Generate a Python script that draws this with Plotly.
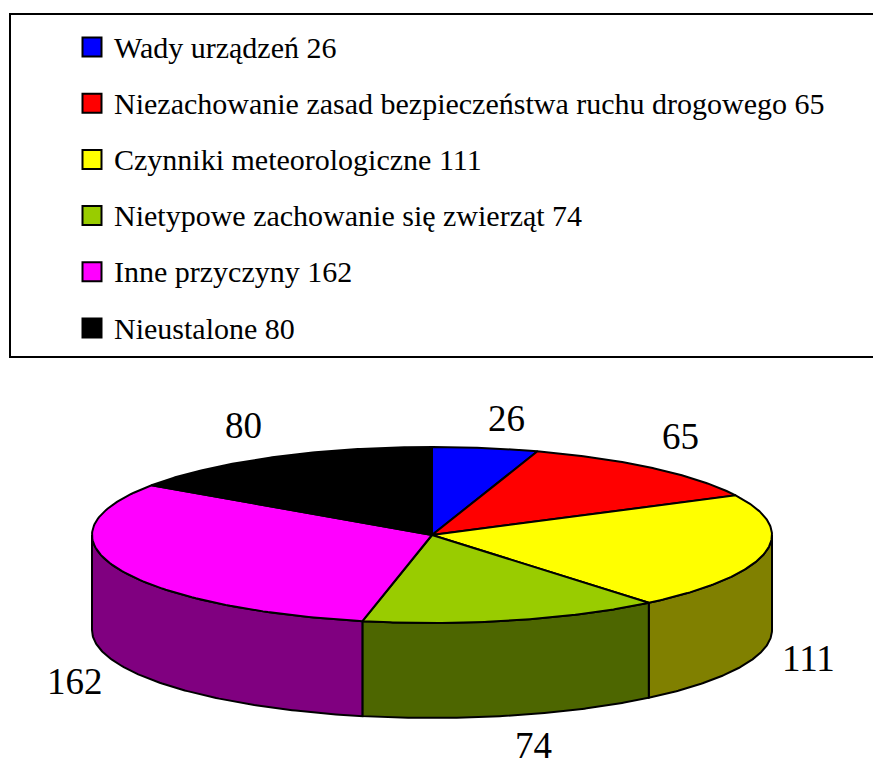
import numpy as np
import plotly.graph_objects as go

categories = ["Wady urządzeń", "Niezachowanie zasad bezpieczeństwa ruchu drogowego",
              "Czynniki meteorologiczne", "Nietypowe zachowanie się zwierząt",
              "Inne przyczyny", "Nieustalone"]
values = [26, 65, 111, 74, 162, 80]
top_colors = ["#0000FF", "#FF0000", "#FFFF00", "#99CC00", "#FF00FF", "#000000"]
wall_colors = ["#000080", "#800000", "#808000", "#4D6600", "#800080", "#000000"]

W, H = 873, 767
CX, CY, RX, RY, DEPTH = 432, 535, 340, 88, 95
SERIF = "Liberation Serif"
LEGEND_FONT, LABEL_FONT = 30, 37
LEGEND_Y0, LEGEND_STEP, SWATCH_X, LEGEND_TEXT_X = 47, 56.2, 92, 112
LABEL_POS = [(506, 418), (680, 436), (808, 658), (533, 745), (75, 681), (243, 425)]


def ellipse(t_deg, drop=0):
    t = np.radians(t_deg)
    return CX + RX * np.sin(t), CY - RY * np.cos(t) + drop


fig = go.Figure()
poly = dict(mode="lines", fill="toself", line=dict(color="black", width=2),
            hoverinfo="skip", showlegend=False)

edges = 360 * np.concatenate([[0], np.cumsum(values)]) / sum(values)

# front wall: only the part of each slice between 90 and 270 degrees shows
for i in range(len(values)):
    a, b = max(edges[i], 90), min(edges[i + 1], 270)
    if a >= b:
        continue
    t = np.linspace(a, b, 120)
    x1, y1 = ellipse(t)
    x2, y2 = ellipse(t[::-1], DEPTH)
    fig.add_trace(go.Scatter(x=np.r_[x1, x2, x1[0]], y=np.r_[y1, y2, y1[0]],
                             fillcolor=wall_colors[i], **poly))

# top face
for i in range(len(values)):
    t = np.linspace(edges[i], edges[i + 1], 120)
    x1, y1 = ellipse(t)
    fig.add_trace(go.Scatter(x=np.r_[CX, x1, CX], y=np.r_[CY, y1, CY],
                             fillcolor=top_colors[i], **poly))

# legend swatches
legend_y = [LEGEND_Y0 + LEGEND_STEP * i for i in range(len(values))]
fig.add_trace(go.Scatter(x=[SWATCH_X] * len(values), y=legend_y, mode="markers",
                         marker=dict(symbol="square", size=19, color=top_colors,
                                     line=dict(color="black", width=2)),
                         hoverinfo="skip", showlegend=False))

annotations = []
for c, v, y in zip(categories, values, legend_y):
    annotations.append(dict(x=LEGEND_TEXT_X, y=y, text=f"{c} {v}", xanchor="left", yanchor="middle",
                            showarrow=False, xref="x", yref="y",
                            font=dict(family=SERIF, size=LEGEND_FONT, color="black")))
for v, (x, y) in zip(values, LABEL_POS):
    annotations.append(dict(x=x, y=y, text=str(v), xanchor="center", yanchor="middle",
                            showarrow=False, xref="x", yref="y",
                            font=dict(family=SERIF, size=LABEL_FONT, color="black")))

fig.update_layout(
    width=W, height=H, margin=dict(l=0, r=0, t=0, b=0),
    paper_bgcolor="white", plot_bgcolor="white", showlegend=False,
    xaxis=dict(range=[0, W], visible=False, fixedrange=True),
    yaxis=dict(range=[H, 0], visible=False, fixedrange=True),
    annotations=annotations,
    shapes=[dict(type="rect", x0=10, x1=W + 10, y0=14, y1=357, xref="x", yref="y",
                 line=dict(color="black", width=2), layer="below")],
)
fig.write_html("out.html", config=dict(displayModeBar=False),
               post_script="document.body.style.margin='0';document.body.style.overflow='hidden';")
